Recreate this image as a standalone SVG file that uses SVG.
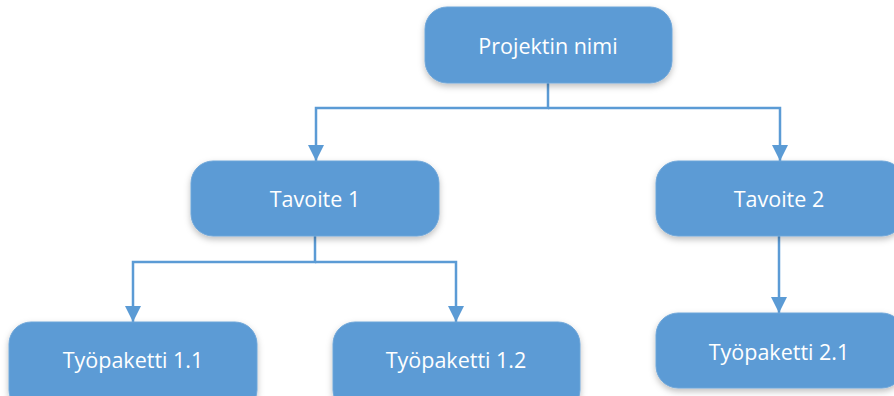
<svg xmlns="http://www.w3.org/2000/svg" width="894" height="396" viewBox="0 0 894 396">
<style>
.node rect{fill:#5b9bd5;stroke:#6fa6d9;stroke-width:1;filter:url(#sh)}
.node text{fill:#ffffff;font-family:"Open Sans","Noto Sans",sans-serif;font-size:21.5px;text-anchor:middle;dominant-baseline:central}
.conn path{fill:none;stroke:#5b9bd5;stroke-width:2.5;marker-end:url(#arr)}
</style>
<defs>
<filter id="sh" x="-10%" y="-20%" width="120%" height="150%">
<feDropShadow dx="0" dy="3" stdDeviation="3" flood-color="#000" flood-opacity="0.25"/>
</filter>
<marker id="arr" viewBox="0 0 16 16" refX="16" refY="8" markerWidth="16" markerHeight="16" markerUnits="userSpaceOnUse" orient="auto">
<path d="M0,0 L16,8 L0,16 Z" fill="#5b9bd5"/>
</marker>
</defs>
<g class="conn">
<path d="M548,83 V108 H316 V161"/>
<path d="M548,108 H780 V161"/>
<path d="M315,236 V262 H133 V322"/>
<path d="M315,262 H456 V322"/>
<path d="M779,236 V313"/>
</g>
<g id="n0" class="node"><rect x="425" y="7" width="247" height="76" rx="22"/><text x="548" y="45">Projektin nimi</text></g>
<g id="n1" class="node"><rect x="191" y="161" width="248" height="75" rx="22"/><text x="315" y="198">Tavoite 1</text></g>
<g id="n2" class="node"><rect x="656" y="161" width="248" height="75" rx="22"/><text x="779" y="198">Tavoite 2</text></g>
<g id="n3" class="node"><rect x="9" y="322" width="248" height="90" rx="22"/><text x="133" y="359">Työpaketti 1.1</text></g>
<g id="n4" class="node"><rect x="333" y="322" width="247" height="90" rx="22"/><text x="456" y="359">Työpaketti 1.2</text></g>
<g id="n5" class="node"><rect x="656" y="313" width="248" height="75" rx="22"/><text x="779" y="351">Työpaketti 2.1</text></g>
</svg>
